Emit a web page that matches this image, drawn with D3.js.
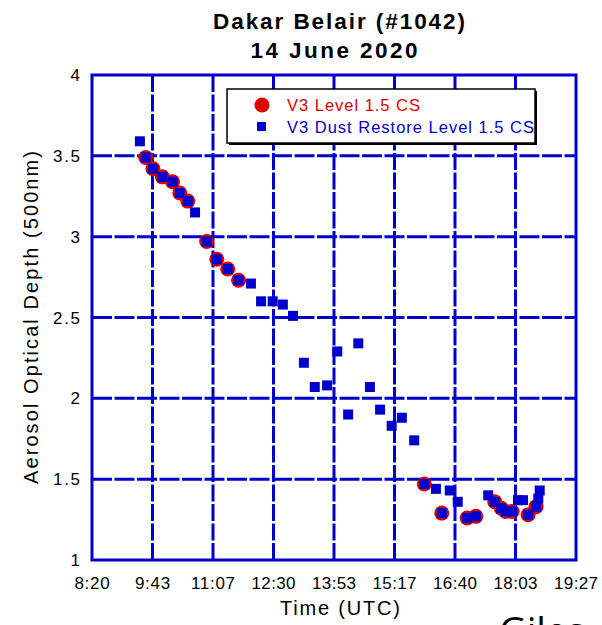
<!DOCTYPE html>
<html>
<head>
<meta charset="utf-8">
<script src="https://cdn.jsdelivr.net/npm/d3@7"></script>
<style>
  body { margin: 0; background: #fff; }
  svg { display: block; font-family: "Liberation Sans", Arial, sans-serif; }
</style>
</head>
<body>
<div id="chart"></div>
<script>
// Data
const titleLines = ["Dakar Belair (#1042)", "14 June 2020"];
const xTickLabels = ["8:20", "9:43", "11:07", "12:30", "13:53", "15:17", "16:40", "18:03", "19:27"];
const yTicks = [1, 1.5, 2, 2.5, 3, 3.5, 4];

// V3 Dust Restore Level 1.5 CS (blue squares)
const dustTimes = ["9:26", "9:34", "9:44", "9:57", "10:11", "10:21", "10:32", "10:42", "10:58", "11:12",
  "11:27", "11:42", "11:59", "12:13", "12:29", "12:43", "12:57", "13:12", "13:27", "13:44",
  "13:58", "14:13", "14:27", "14:43", "14:57", "15:13", "15:27", "15:44", "15:58", "16:14",
  "16:22", "16:33", "16:44", "16:57", "17:09", "17:26", "17:35", "17:44", "17:50", "17:59",
  "18:07", "18:14", "18:21", "18:32", "18:35", "18:37"];
const dustAod = [3.59, 3.49, 3.42, 3.37, 3.34, 3.27, 3.22, 3.15, 2.97, 2.86,
  2.80, 2.73, 2.71, 2.60, 2.60, 2.58, 2.51, 2.22, 2.07, 2.08,
  2.29, 1.90, 2.34, 2.07, 1.93, 1.83, 1.88, 1.74, 1.47, 1.44,
  1.29, 1.43, 1.36, 1.26, 1.27, 1.40, 1.36, 1.32, 1.30, 1.30,
  1.37, 1.37, 1.28, 1.33, 1.38, 1.43];

// V3 Level 1.5 CS (red circles)
const l15Times = ["9:34", "9:44", "9:57", "10:11", "10:21", "10:32", "10:58", "11:12", "11:27", "11:42",
  "15:58", "16:22", "16:57", "17:09", "17:35", "17:44", "17:50", "17:59", "18:21", "18:32"];
const l15Aod = [3.49, 3.42, 3.37, 3.34, 3.27, 3.22, 2.97, 2.86, 2.80, 2.73,
  1.47, 1.29, 1.26, 1.27, 1.36, 1.32, 1.30, 1.30, 1.28, 1.33];

const toMin = (s) => { const p = s.split(":"); return +p[0] * 60 + +p[1]; };

// Sizes
const W = 602, H = 625;
const plot = { left: 92, right: 576, top: 75, bottom: 560 };
const BLUE = "#0000cc";
const RED = "#dd0000";

const svg = d3.select("#chart").append("svg").attr("width", W).attr("height", H);

// Scales
const x = d3.scaleLinear().domain([toMin("8:20"), toMin("19:27")]).range([plot.left, plot.right]);
const y = d3.scaleLinear().domain([1, 4]).range([plot.bottom, plot.top]);
const xTickVals = xTickLabels.map((d, i) => x.domain()[0] + i * (x.domain()[1] - x.domain()[0]) / (xTickLabels.length - 1));

// Grid
const grid = svg.append("g");
grid.selectAll("line.v")
  .data(xTickVals.slice(1, -1))
  .enter().append("line")
  .attr("x1", (d) => x(d)).attr("x2", (d) => x(d))
  .attr("y1", plot.top).attr("y2", plot.bottom)
  .attr("stroke", BLUE).attr("stroke-width", 3).attr("stroke-dasharray", "17,2.5");
grid.selectAll("line.h")
  .data(yTicks.slice(1, -1))
  .enter().append("line")
  .attr("x1", plot.left).attr("x2", plot.right)
  .attr("y1", (d) => y(d)).attr("y2", (d) => y(d))
  .attr("stroke", BLUE).attr("stroke-width", 3).attr("stroke-dasharray", "20,2.5");

// Frame
svg.append("rect")
  .attr("x", plot.left).attr("y", plot.top)
  .attr("width", plot.right - plot.left).attr("height", plot.bottom - plot.top)
  .attr("fill", "none").attr("stroke", BLUE).attr("stroke-width", 3);

// Tick labels
svg.append("g").selectAll("text")
  .data(xTickVals)
  .enter().append("text")
  .attr("x", (d) => x(d)).attr("y", plot.bottom + 29)
  .attr("text-anchor", "middle").attr("font-size", 17).attr("fill", "#000")
  .attr("textLength", (d, i) => xTickLabels[i].length * 8.8)
  .text((d, i) => xTickLabels[i]);
svg.append("g").selectAll("text")
  .data(yTicks)
  .enter().append("text")
  .attr("x", plot.left - 12).attr("y", (d) => y(d) + 6)
  .attr("text-anchor", "end").attr("font-size", 17).attr("fill", "#000")
  .attr("textLength", (d) => String(d).length * 9)
  .text((d) => d);

// Axis titles
svg.append("text")
  .attr("x", 340).attr("y", 615)
  .attr("text-anchor", "middle").attr("font-size", 20)
  .attr("textLength", 120)
  .text("Time (UTC)");
svg.append("text")
  .attr("transform", "translate(38," + (plot.top + plot.bottom) / 2 + ") rotate(-90)")
  .attr("text-anchor", "middle").attr("font-size", 20)
  .attr("textLength", 333)
  .text("Aerosol Optical Depth (500nm)");

// Title
const titleWidths = [252, 167];
svg.append("g").selectAll("text")
  .data(titleLines)
  .enter().append("text")
  .attr("x", (d, i) => (i === 0 ? 339 : 334)).attr("y", (d, i) => 29 + i * 28.5)
  .attr("text-anchor", "middle").attr("font-size", 22.5).attr("font-weight", "bold")
  .attr("textLength", (d, i) => titleWidths[i])
  .text((d) => d);

// Points: red circles under blue squares
const l15 = l15Times.map((t, i) => ({ t: toMin(t), v: l15Aod[i] }));
const dust = dustTimes.map((t, i) => ({ t: toMin(t), v: dustAod[i] }));

svg.append("g").selectAll("circle")
  .data(l15)
  .enter().append("circle")
  .attr("cx", (d) => x(d.t)).attr("cy", (d) => y(d.v))
  .attr("r", 7.5).attr("fill", RED);

const SQ = 10;
svg.append("g").selectAll("rect")
  .data(dust)
  .enter().append("rect")
  .attr("x", (d) => x(d.t) - SQ / 2).attr("y", (d) => y(d.v) - SQ / 2)
  .attr("width", SQ).attr("height", SQ).attr("fill", BLUE);

// Legend
const leg = svg.append("g").attr("transform", "translate(227,89)");
leg.append("rect").attr("x", 2).attr("y", 2).attr("width", 308).attr("height", 54).attr("fill", "#000");
leg.append("rect").attr("width", 308).attr("height", 54).attr("fill", "#fff").attr("stroke", "#000").attr("stroke-width", 1.5);
leg.append("circle").attr("cx", 35).attr("cy", 16).attr("r", 7.5).attr("fill", RED);
leg.append("rect").attr("x", 30).attr("y", 33).attr("width", 9).attr("height", 9).attr("fill", BLUE);
leg.append("text").attr("x", 60).attr("y", 22).attr("font-size", 16.5).attr("fill", RED)
  .attr("textLength", 133).text("V3 Level 1.5 CS");
leg.append("text").attr("x", 60).attr("y", 44).attr("font-size", 16.5).attr("fill", BLUE)
  .attr("textLength", 247).text("V3 Dust Restore Level 1.5 CS");

// Cut-off text at bottom right
svg.append("text").attr("x", 499).attr("y", 645).attr("font-family", "'Open Sans', sans-serif")
  .attr("font-size", 38).attr("fill", "#000").text("Giles");
</script>
</body>
</html>
